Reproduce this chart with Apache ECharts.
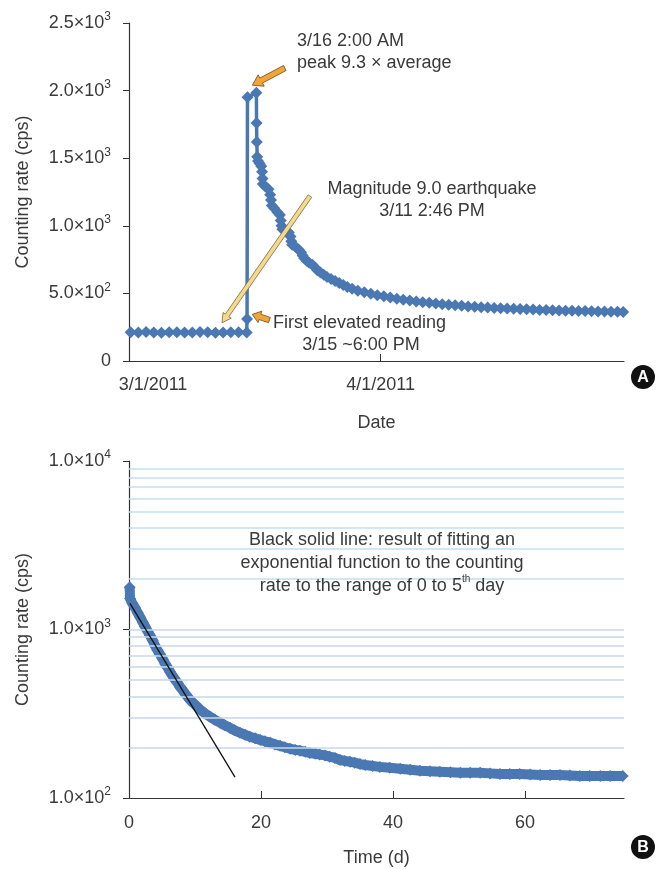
<!DOCTYPE html>
<html>
<head>
<meta charset="utf-8">
<script src="https://cdn.jsdelivr.net/npm/echarts@6/dist/echarts.min.js"></script>
<style>
html, body { margin: 0; padding: 0; background: #fff; }
#main { width: 656px; height: 869px; }
</style>
</head>
<body>
<div id="main"></div>
<script>
// ---- panel A : counting rate vs date (days after 3/1/2011) ----
var topDay = [0.2, 1.15, 2.1, 3.05, 4.0, 4.95, 5.9, 6.85, 7.8, 8.75, 9.7, 10.65, 11.6, 12.55, 13.5, 14.5,
  14.55, 14.6, 15.7, 15.72, 15.75, 15.8, 15.9,
  16.1, 16.3, 16.4, 16.45, 16.5, 16.8, 17.2, 17.4, 17.5, 17.6, 17.9, 18.3, 18.6, 18.7, 18.8, 18.9,
  19.3, 19.7, 19.9, 20.0, 20.1, 20.5, 20.9, 21.2, 21.4, 21.6, 21.9, 22.2, 22.6, 22.9, 23.2, 23.6,
  24.0, 24.4, 24.9, 25.4, 25.9, 26.4, 26.9, 27.5, 28.2, 29.0, 29.8, 30.6, 31.4, 32.2, 33.0, 33.8,
  34.6, 35.4, 36.2, 37.0, 37.8, 38.6, 39.4, 40.2, 41.0, 41.8, 42.6, 43.4, 44.2, 45.0, 45.8, 46.6,
  47.4, 48.2, 49.0, 49.8, 50.6, 51.4, 52.2, 53.0, 53.8, 54.6, 55.4, 56.2, 57.0, 57.8, 58.6, 59.4,
  60.2, 60.9];
var topRate = [212, 210, 214, 211, 209, 213, 212, 210, 211, 214, 212, 209, 211, 213, 212, 210,
  310, 1950, 1985, 1760, 1620, 1510, 1480,
  1460, 1440, 1400, 1350, 1310, 1290, 1270, 1230, 1190, 1150, 1130, 1100, 1080, 1040, 1000, 975,
  965, 950, 920, 885, 860, 845, 825, 805, 780, 760, 742, 727, 712, 693, 672, 655,
  638, 622, 607, 592, 577, 562, 548, 534, 520, 508, 497, 487, 478, 469, 461, 453,
  447, 441, 435, 430, 425, 420, 416, 412, 408, 404, 401, 398, 395, 392, 390, 388,
  386, 384, 382, 380, 378, 377, 375, 374, 372, 371, 370, 369, 368, 367, 366, 365,
  364, 363];
var topDateTicks = [0, 31];
var topDateLabels = ['3/1/2011', '4/1/2011'];

// ---- panel B : counting rate vs time (d) ----
var botDay = [0.1, 0.15, 0.5, 0.9, 1.3, 1.7, 2.1, 2.4, 2.8, 3.2, 3.6, 3.9, 4.3, 4.7, 5.1, 5.5, 5.9,
  6.2, 6.6, 7.0, 7.4, 7.7, 8.1, 8.5, 8.9, 9.2, 9.6, 10.0, 10.4, 10.8, 11.5, 12.3, 13.0, 13.8,
  14.5, 15.3, 16.0, 16.8, 17.6, 18.3, 19.1, 19.9, 20.6, 21.4, 22.1, 22.9, 23.6, 24.4, 25.2,
  25.9, 26.7, 27.4, 28.2, 28.9, 29.7, 30.4, 31.2, 32.0, 32.7, 33.5, 34.2, 35.0, 35.8, 36.9,
  38.0, 39.5, 41.1, 42.6, 44.1, 45.6, 47.1, 48.7, 50.2, 51.7, 53.2, 54.7, 56.2, 57.7, 59.2,
  60.8, 62.3, 63.8, 65.3, 66.8, 68.3, 69.8, 71.4, 72.9, 74.8];
var botRate = [1780, 1530, 1430, 1350, 1260, 1180, 1100, 1045, 980, 920, 860, 805, 755, 712, 668, 625, 590,
  562, 530, 503, 480, 458, 438, 416, 398, 384, 370, 358, 346, 334, 318, 303, 291, 280,
  270, 261, 252, 244, 237, 231, 226, 221, 217, 213, 208, 204, 200, 196, 193,
  191, 188, 185, 183, 181, 179, 176, 173, 168, 166, 164, 162, 159, 157, 155,
  153, 151, 149, 147, 145, 144, 143, 142, 141, 141, 141, 140, 139, 139, 139,
  138, 137, 137, 137, 136, 135, 135, 135, 135, 135];
var fitDay = [0.15, 16.06];
var fitRate = [1429, 133];
var gridValuesUpper = [2000, 3000, 4000, 5000, 6000, 7000, 8000, 9000];
var gridValuesLower = [200, 300, 400, 500, 600, 700, 800, 900, 1000];
var botTicks = [20, 40, 60];
var botLabels = [0, 20, 40, 60];

var FONT = '"Liberation Sans", Arial, sans-serif';
var TXT = '#3a3a3a';
var BLUE = '#4a78b3';

function pairs(xs, ys) {
  var out = [];
  for (var i = 0; i < xs.length; i++) out.push([xs[i], ys[i]]);
  return out;
}

function sciLabel(v) {
  if (v === 0) return '{m|0}';
  var e = Math.floor(Math.log10(v) + 1e-9);
  var m = (v / Math.pow(10, e)).toFixed(1);
  return '{m|' + m + '×10}{s|' + e + '}';
}
var sciRich = {
  m: { fontSize: 18, color: TXT, fontFamily: FONT, lineHeight: 24 },
  s: { fontSize: 12, color: TXT, fontFamily: FONT, lineHeight: 15, verticalAlign: 'top' }
};

var gridLines = [];
gridValuesUpper.forEach(function (v) {
  gridLines.push({ yAxis: v, lineStyle: { color: '#bfe0ef' } });
});
gridValuesLower.forEach(function (v) {
  gridLines.push({ yAxis: v, lineStyle: { color: '#c9d7ea' } });
});

var myChart = echarts.init(document.getElementById('main'), null, { renderer: 'canvas' });

option = {
  animation: false,
  backgroundColor: '#fff',
  textStyle: { fontFamily: FONT, color: TXT },
  grid: [
    { left: 129, top: 23, width: 495, height: 338 },
    { left: 129, top: 461, width: 495, height: 337 }
  ],
  xAxis: [
    {
      gridIndex: 0, type: 'value', min: 0, max: 61,
      name: 'Date', nameLocation: 'middle', nameGap: 53,
      nameTextStyle: { fontSize: 18, color: TXT, fontFamily: FONT },
      axisLine: { lineStyle: { color: '#333', width: 1.2 } },
      axisTick: { inside: true, length: 7, customValues: [topDateTicks[1]], lineStyle: { color: '#333' } },
      axisLabel: {
        customValues: topDateTicks, margin: 15, fontSize: 18, color: TXT, fontFamily: FONT,
        formatter: function (v) {
          var i = topDateTicks.indexOf(v);
          return i === 0 ? '{f|' + topDateLabels[0] + '}' : topDateLabels[i];
        },
        rich: { f: { fontSize: 18, color: TXT, fontFamily: FONT, padding: [0, 0, 0, 48] } }
      },
      splitLine: { show: false }
    },
    {
      gridIndex: 1, type: 'value', min: 0, max: 75,
      name: 'Time (d)', nameLocation: 'middle', nameGap: 51,
      nameTextStyle: { fontSize: 18, color: TXT, fontFamily: FONT },
      axisLine: { lineStyle: { color: '#333', width: 1.2 } },
      axisTick: { inside: true, length: 7, customValues: botTicks, lineStyle: { color: '#333' } },
      axisLabel: { customValues: botLabels, margin: 16, fontSize: 18, color: TXT, fontFamily: FONT },
      splitLine: { show: false }
    }
  ],
  yAxis: [
    {
      gridIndex: 0, type: 'value', min: 0, max: 2500, interval: 500,
      name: 'Counting rate (cps)', nameLocation: 'middle', nameGap: 97,
      nameTextStyle: { fontSize: 18, color: TXT, fontFamily: FONT },
      axisLine: { show: true, lineStyle: { color: '#333', width: 1.2 } },
      axisTick: { show: true, length: 6, lineStyle: { color: '#333' } },
      axisLabel: { margin: 18, formatter: sciLabel, rich: sciRich },
      splitLine: { show: false }
    },
    {
      gridIndex: 1, type: 'log', logBase: 10, min: 100, max: 10000,
      name: 'Counting rate (cps)', nameLocation: 'middle', nameGap: 97,
      nameTextStyle: { fontSize: 18, color: TXT, fontFamily: FONT },
      axisLine: { show: true, lineStyle: { color: '#333', width: 1.2 } },
      axisTick: { show: true, length: 6, lineStyle: { color: '#333' } },
      axisLabel: { margin: 18, formatter: sciLabel, rich: sciRich },
      splitLine: { show: false }
    }
  ],
  series: [
    {
      name: 'rate A', type: 'line', xAxisIndex: 0, yAxisIndex: 0,
      data: pairs(topDay, topRate),
      symbol: 'diamond', symbolSize: 12, showAllSymbol: true,
      itemStyle: { color: BLUE },
      lineStyle: { color: BLUE, width: 3.5 },
      z: 3
    },
    {
      name: 'gridlines', type: 'line', xAxisIndex: 1, yAxisIndex: 1,
      data: [], silent: true, z: 1,
      markLine: {
        silent: true, symbol: 'none', label: { show: false },
        lineStyle: { type: 'solid', width: 1.6 },
        data: gridLines
      }
    },
    {
      name: 'rate B', type: 'line', xAxisIndex: 1, yAxisIndex: 1,
      data: pairs(botDay, botRate),
      symbol: 'diamond', symbolSize: 12, showAllSymbol: true,
      itemStyle: { color: BLUE },
      lineStyle: { color: BLUE, width: 10, join: 'round' },
      z: 3
    },
    {
      name: 'fit', type: 'line', xAxisIndex: 1, yAxisIndex: 1,
      data: pairs(fitDay, fitRate),
      symbol: 'none',
      lineStyle: { color: '#111', width: 1.3 },
      z: 5
    }
  ]
};

myChart.setOption(option);

// annotation arrows placed through the chart's own coordinate conversion
function px(grid, x, y) {
  return myChart.convertToPixel({ xAxisIndex: grid, yAxisIndex: grid }, [x, y]);
}
function arrow(p0, p1, w, hl, hw, fill, stroke) {
  var dx = p1[0] - p0[0], dy = p1[1] - p0[1];
  var L = Math.sqrt(dx * dx + dy * dy);
  var ux = dx / L, uy = dy / L, nx = -uy, ny = ux;
  var bx = p1[0] - ux * hl, by = p1[1] - uy * hl;
  return {
    type: 'polygon', z: 50,
    shape: { points: [
      [p0[0] + nx * w, p0[1] + ny * w], [bx + nx * w, by + ny * w], [bx + nx * hw, by + ny * hw],
      [p1[0], p1[1]],
      [bx - nx * hw, by - ny * hw], [bx - nx * w, by - ny * w], [p0[0] - nx * w, p0[1] - ny * w]
    ] },
    style: { fill: fill, stroke: stroke, lineWidth: 0.8 }
  };
}
function label(x, y, text, align) {
  return {
    type: 'text', x: x, y: y, z: 60,
    style: { text: text, fill: TXT, font: '18px ' + FONT, align: align || 'left', verticalAlign: 'middle' }
  };
}

myChart.setOption({
  graphic: [
    arrow(px(0, 22.3, 1220), px(0, 11.46, 283), 2.2, 9, 5, '#f3d892', '#7d6a35'),
    arrow(px(0, 19.2, 2167), px(0, 15.2, 2040), 2.8, 10, 6.5, '#f2a43a', '#6e4c12'),
    arrow(px(0, 17.3, 303), px(0, 15.2, 345), 2.8, 8, 6, '#f2a43a', '#6e4c12'),
    label(297, 41, '3/16 2:00 AM'),
    label(297, 63, 'peak 9.3 × average'),
    label(432, 189, 'Magnitude 9.0 earthquake', 'center'),
    label(432, 211, '3/11 2:46 PM', 'center'),
    label(273, 323, 'First elevated reading'),
    label(361, 345, '3/15 ~6:00 PM', 'center'),
    {
      type: 'text', x: 382, y: 563, z: 60,
      style: {
        text: 'Black solid line: result of fitting an\nexponential function to the counting\nrate to the range of 0 to 5{s|th} day',
        align: 'center', verticalAlign: 'middle', fill: TXT, font: '18px ' + FONT, lineHeight: 23,
        rich: { s: { fontSize: 10, fill: TXT, fontFamily: FONT, verticalAlign: 'top', lineHeight: 14 } }
      }
    },
    { type: 'circle', shape: { cx: 643, cy: 377, r: 12 }, style: { fill: '#111' }, z: 60 },
    { type: 'text', x: 643, y: 378, z: 61, style: { text: 'A', fill: '#fff', font: 'bold 16px ' + FONT, align: 'center', verticalAlign: 'middle' } },
    { type: 'circle', shape: { cx: 643, cy: 847, r: 12 }, style: { fill: '#111' }, z: 60 },
    { type: 'text', x: 643, y: 848, z: 61, style: { text: 'B', fill: '#fff', font: 'bold 16px ' + FONT, align: 'center', verticalAlign: 'middle' } }
  ]
});
</script>
</body>
</html>
